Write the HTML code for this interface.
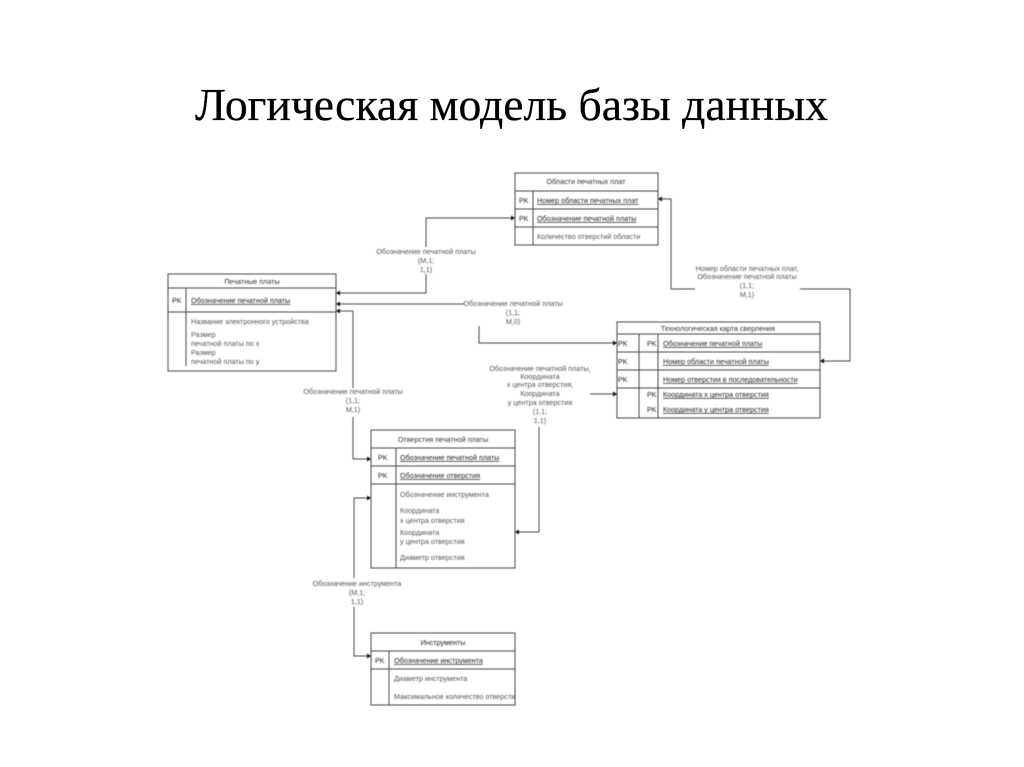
<!DOCTYPE html>
<html><head><meta charset="utf-8"><style>
html,body{margin:0;padding:0;background:#fff;width:1024px;height:767px;overflow:hidden}
svg{position:absolute;left:0;top:0}
#d{filter:blur(.55px)}
.t{font-family:"Liberation Sans","Noto Sans CJK SC",sans-serif;font-size:7.2px;fill:#555}
.b{fill:#222}
.h{fill:#333}
.u{text-decoration:underline;fill:#222}
.m{text-anchor:middle}
.l{fill:none;stroke:#444;stroke-width:1}
.a{fill:#111}
</style></head><body>
<svg width="1024" height="767" viewBox="0 0 1024 767">
<text x="195" y="120" font-family="'Liberation Serif','Noto Serif CJK SC',serif" font-size="45" fill="#000" stroke="#000" stroke-width=".25" textLength="633" lengthAdjust="spacingAndGlyphs">Логическая модель базы данных</text>
<g id="d">
<g class="l">
<rect x="515" y="173" width="143" height="72"/><path d="M515 191H658M515 209H658M515 227H658M533 191V245"/>
<rect x="168" y="274" width="168" height="97"/><path d="M168 288H336M168 312H336M186 288V366"/>
<rect x="617" y="322" width="203" height="96"/><path d="M617 334H820M617 352H820M617 370H820M617 388H820M639 334V418M658 334V418"/>
<rect x="371" y="430" width="144" height="138"/><path d="M371 448H515M371 466H515M371 484H515M396 448V568"/>
<rect x="371" y="633" width="144" height="72"/><path d="M371 651H515M371 669H515M389 651V705"/>
<path d="M426 247V218H513M426 274V293H339"/>
<path d="M339 304H464M479 326V343H614"/>
<path d="M339 311H353V388M353 417V459H368"/>
<path d="M661 199H671V289H695M800 289H850V361H823"/>
<path d="M590 394H614M539 427V532H518"/>
<path d="M368 498H354V578M354 607V656H368"/>
</g>
<g class="a">
<path d="M515 218l-4-2.500v5zM336 293l4-2.500v5zM336 304l4-2.500v5zM336 311l4-2.500v5zM658 199l4-2.500v5zM617 343l-4-2.500v5zM820 361l4-2.500v5zM617 394l-4-2.500v5zM371 459l-4-2.500v5zM371 498l-4-2.500v5zM515 532l4-2.500v5zM371 656l-4-2.500v5z"/>
</g>
<g class="t">
<text class="m h" x="586" y="184">Области печатных плат</text>
<text class="b" x="519" y="203">PK</text><text class="u" x="537" y="203">Номер области печатных плат</text>
<text class="b" x="519" y="221">PK</text><text class="u" x="537" y="221">Обозначение печатной платы</text>
<text x="537" y="239">Количество отверстий области</text>

<text class="m h" x="252" y="284">Печатные платы</text>
<text class="b" x="172" y="303">PK</text><text class="u" x="191" y="303">Обозначение печатной платы</text>
<text x="191" y="324">Название электронного устройства</text>
<text x="191" y="337">Размер</text><text x="191" y="346">печатной платы по х</text>
<text x="191" y="355">Размер</text><text x="191" y="364">печатной платы по у</text>

<text class="m h" x="718" y="331">Технологическая карта сверления</text>
<text class="b" x="618" y="346">PK</text><text class="b" x="647" y="346">PK</text><text class="u" x="663" y="346">Обозначение печатной платы</text>
<text class="b" x="618" y="364">PK</text><text class="u" x="663" y="364">Номер области печатной платы</text>
<text class="b" x="618" y="382">PK</text><text class="u" x="663" y="382">Номер отверстия в последовательности</text>
<text class="b" x="647" y="397">PK</text><text class="u" x="663" y="397">Координата х центра отверстия</text>
<text class="b" x="647" y="412">PK</text><text class="u" x="663" y="412">Координата у центра отверстия</text>

<text class="m h" x="443" y="442">Отверстия печатной платы</text>
<text class="b" x="378" y="460">PK</text><text class="u" x="400" y="460">Обозначение печатной платы</text>
<text class="b" x="378" y="478">PK</text><text class="u" x="400" y="478">Обозначение отверстия</text>
<text x="400" y="497">Обозначение инструмента</text>
<text x="400" y="513">Координата</text><text x="400" y="523">х центра отверстия</text>
<text x="400" y="535">Координата</text><text x="400" y="544">у центра отверстия</text>
<text x="400" y="560">Диаметр отверстия</text>

<text class="m b" x="443" y="645">Инструменты</text>
<text class="b" x="375" y="663">PK</text><text class="u" x="394" y="663">Обозначение инструмента</text>
<text x="394" y="681">Диаметр инструмента</text>
<text x="394" y="699">Максимальное количество отверсти</text>

<text class="m" x="426" y="254">Обозначение печатной платы</text>
<text class="m" x="426" y="263">(M,1;</text><text class="m" x="426" y="272">1,1)</text>

<text class="m" x="513" y="306">Обозначение печатной платы</text>
<text class="m" x="513" y="315">(1,1;</text><text class="m" x="513" y="324">M,0)</text>

<text class="m" x="353" y="394">Обозначение печатной платы</text>
<text class="m" x="353" y="403">(1,1;</text><text class="m" x="353" y="412">M,1)</text>

<text class="m" x="747" y="271">Номер области печатных плат,</text>
<text class="m" x="747" y="279">Обозначение печатной платы</text>
<text class="m" x="747" y="288">(1,1;</text><text class="m" x="747" y="297">M,1)</text>

<text class="m" x="540" y="371">Обозначение печатной платы,</text>
<text class="m" x="540" y="379">Координата</text>
<text class="m" x="540" y="387">х центра отверстия,</text>
<text class="m" x="540" y="396">Координата</text>
<text class="m" x="540" y="405">у центра отверстия</text>
<text class="m" x="540" y="414">(1,1;</text><text class="m" x="540" y="423">1,1)</text>

<text class="m" x="357" y="586">Обозначение инструмента</text>
<text class="m" x="357" y="595">(M,1;</text><text class="m" x="357" y="604">1,1)</text>
</g>
</g>
</svg>
</body></html>
